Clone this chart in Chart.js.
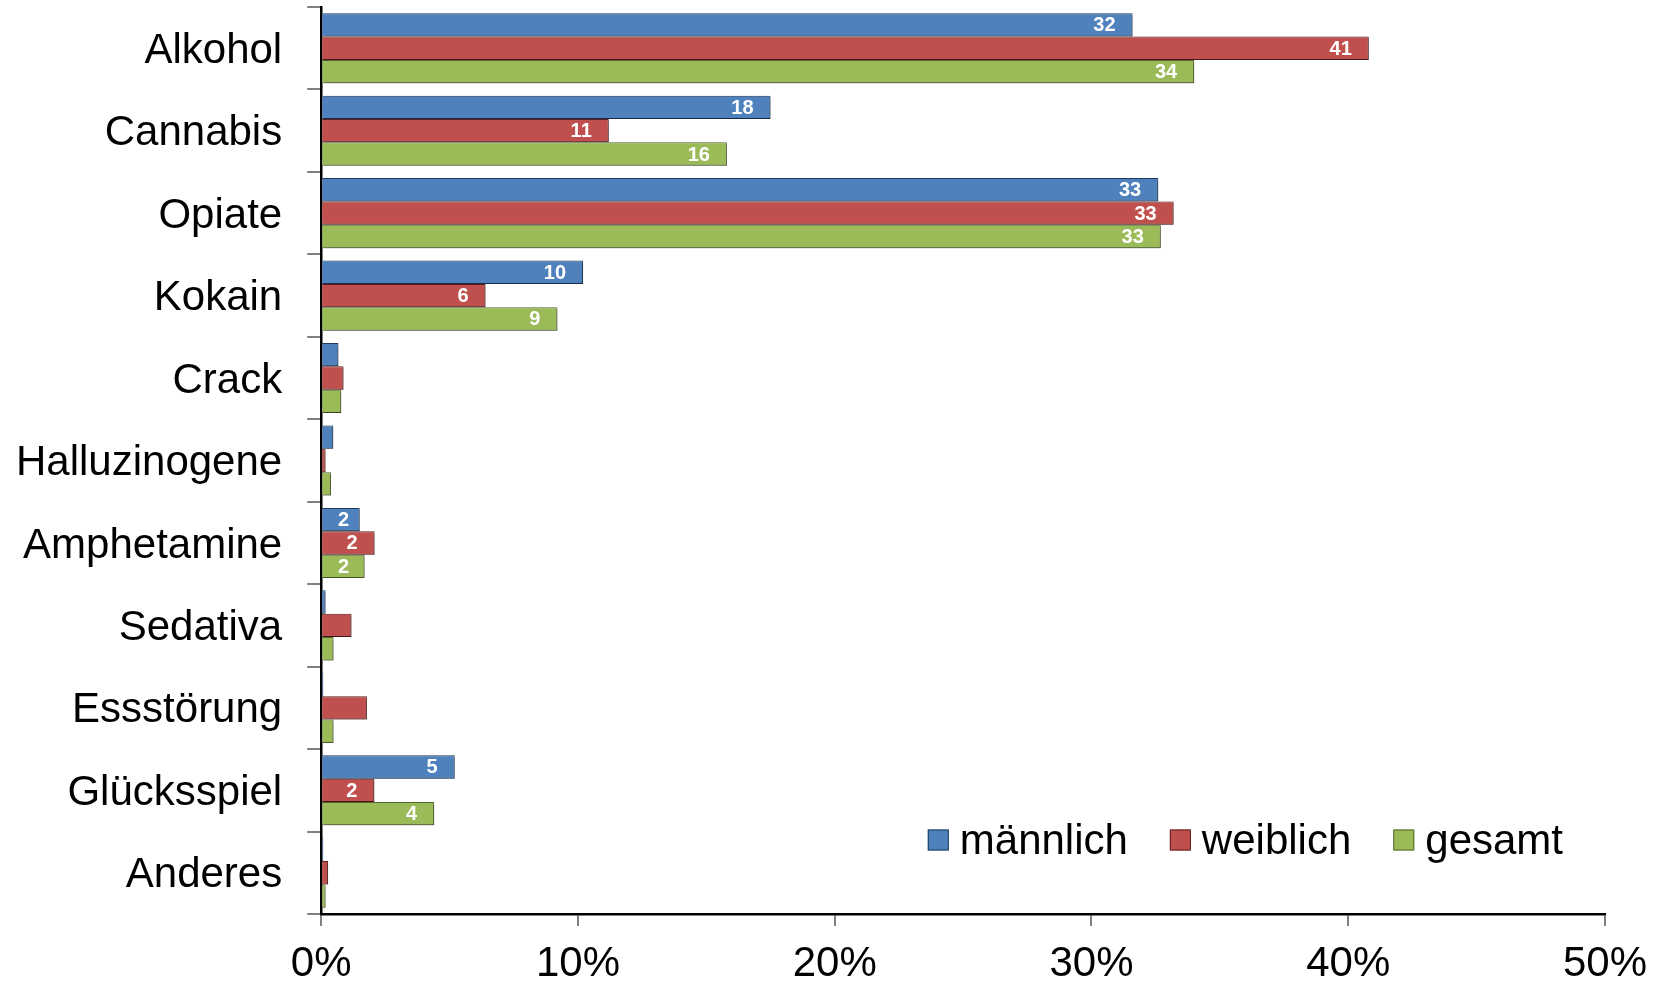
<!DOCTYPE html>
<html>
<head>
<meta charset="utf-8">
<script src="https://cdn.jsdelivr.net/npm/chart.js@4.4.0/dist/chart.umd.min.js"></script>
<style>
  html, body { margin: 0; padding: 0; background: #fff; }
  #wrap { width: 1663px; height: 984px; }
</style>
</head>
<body>
<div id="wrap"><canvas id="chart" width="1663" height="984"></canvas></div>
<script>
const categories = ["Alkohol", "Cannabis", "Opiate", "Kokain", "Crack", "Halluzinogene", "Amphetamine", "Sedativa", "Essstörung", "Glücksspiel", "Anderes"];
const maennlich = [31.6, 17.5, 32.6, 10.2, 0.67, 0.47, 1.5, 0.17, 0.08, 5.2, 0.08];
const weiblich = [40.8, 11.2, 33.2, 6.4, 0.87, 0.17, 2.08, 1.18, 1.78, 2.07, 0.27];
const gesamt = [34.0, 15.8, 32.7, 9.2, 0.78, 0.38, 1.69, 0.48, 0.48, 4.4, 0.17];
const labelled = ["Alkohol", "Cannabis", "Opiate", "Kokain", "Amphetamine", "Glücksspiel"];
const xTicks = [0, 10, 20, 30, 40, 50];

const FONT = "'Liberation Sans', Arial, sans-serif";

const series = [
  { label: "männlich", data: maennlich, fill: "#4f81bd", border: "#1d3b60" },
  { label: "weiblich", data: weiblich, fill: "#c0504d", border: "#5e1f1d" },
  { label: "gesamt", data: gesamt, fill: "#9bbb59", border: "#55682f" },
];

// soft drop shadow under the bars, like the office chart
const barShadow = {
  id: "barShadow",
  beforeDatasetsDraw(chart) {
    const ctx = chart.ctx;
    ctx.save();
    ctx.shadowColor = "rgba(0,0,0,0.35)";
    ctx.shadowBlur = 2;
    ctx.shadowOffsetX = 1.5;
    ctx.shadowOffsetY = 1.5;
  },
  afterDatasetsDraw(chart) {
    chart.ctx.restore();
  },
};

// white value labels inside the bar ends
const valueLabels = {
  id: "valueLabels",
  afterDatasetsDraw(chart) {
    const ctx = chart.ctx;
    ctx.save();
    ctx.font = "bold 20px " + FONT;
    ctx.fillStyle = "#fff";
    ctx.textAlign = "right";
    ctx.textBaseline = "middle";
    chart.data.datasets.forEach((ds, i) => {
      chart.getDatasetMeta(i).data.forEach((bar, j) => {
        if (!labelled.includes(categories[j])) return;
        const x = Math.max(bar.x - 17, chart.chartArea.left + 28);
        ctx.fillText(String(Math.round(ds.data[j])), x, bar.y + 1);
      });
    });
    ctx.restore();
  },
};

// legend drawn inside plot area, lower right
const innerLegend = {
  id: "innerLegend",
  afterDraw(chart) {
    const ctx = chart.ctx;
    const area = chart.chartArea;
    ctx.save();
    ctx.font = "42px " + FONT;
    ctx.textBaseline = "middle";
    const box = 21, gapText = 11, gapItem = 42;
    const widths = series.map((s) => box + gapText + ctx.measureText(s.label).width);
    const total = widths.reduce((a, b) => a + b, 0) + gapItem * (series.length - 1);
    let x = area.right - 42 - total;
    const y = area.bottom - 74;
    series.forEach((s, i) => {
      ctx.fillStyle = s.fill;
      ctx.fillRect(x, y - box / 2, box, box);
      ctx.strokeStyle = s.border;
      ctx.lineWidth = 1;
      ctx.strokeRect(x + 0.5, y - box / 2 + 0.5, box - 1, box - 1);
      ctx.fillStyle = "#000";
      ctx.fillText(s.label, x + box + gapText, y + 2);
      x += widths[i] + gapItem;
    });
    ctx.restore();
  },
};

new Chart(document.getElementById("chart"), {
  type: "bar",
  data: {
    labels: categories,
    datasets: series.map((s) => ({
      label: s.label,
      data: s.data,
      backgroundColor: s.fill,
      borderColor: s.border,
      borderWidth: 1,
      borderSkipped: "left",
      categoryPercentage: 0.85,
      barPercentage: 1.0,
    })),
  },
  options: {
    indexAxis: "y",
    responsive: false,
    animation: false,
    layout: { padding: { left: -9, right: 58, top: 7, bottom: 0 } },
    plugins: { legend: { display: false }, tooltip: { enabled: false } },
    scales: {
      x: {
        min: 0,
        max: 50,
        afterBuildTicks: (axis) => { axis.ticks = xTicks.map((v) => ({ value: v })); },
        afterFit: (scale) => { scale.height = 70; },
        ticks: { callback: (v) => v + "%", color: "#000", font: { family: FONT, size: 42 }, padding: 13, maxRotation: 0 },
        grid: { drawOnChartArea: false, drawTicks: true, tickLength: 12, color: "#808080", lineWidth: 2 },
        border: { display: true, color: "#000", width: 2.5 },
      },
      y: {
        afterFit: (scale) => { scale.paddingTop = 0; scale.paddingBottom = 0; },
        ticks: { color: "#000", font: { family: FONT, size: 42 }, padding: 25, labelOffset: 3 },
        grid: { drawOnChartArea: false, drawTicks: true, tickLength: 14, color: "#808080", lineWidth: 2, offset: true },
        border: { display: true, color: "#000", width: 2.5 },
      },
    },
  },
  plugins: [barShadow, valueLabels, innerLegend],
});
</script>
</body>
</html>
